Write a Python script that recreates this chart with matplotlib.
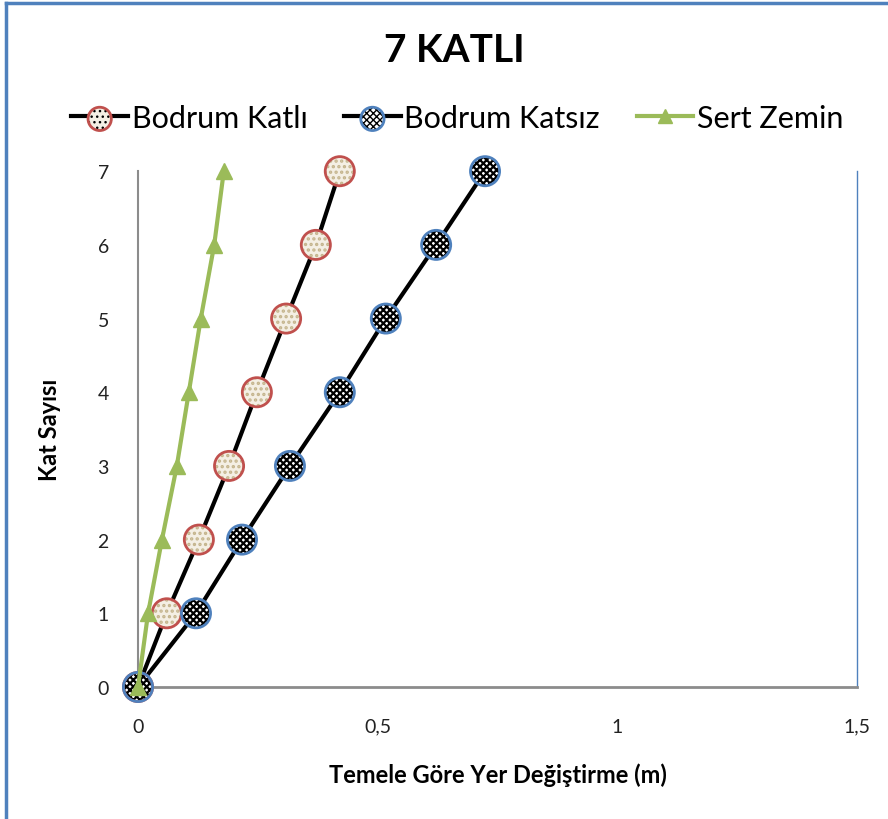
import matplotlib.pyplot as plt
from matplotlib.lines import Line2D
from matplotlib.legend_handler import HandlerTuple

plt.rcParams['font.family'] = ['Lato', 'DejaVu Sans']

# Floor numbers and lateral displacement relative to the foundation (m)
floors = [0, 1, 2, 3, 4, 5, 6, 7]
bodrum_katli = [0.0, 0.06, 0.127, 0.19, 0.248, 0.309, 0.371, 0.421]
bodrum_katsiz = [0.0, 0.121, 0.217, 0.317, 0.421, 0.517, 0.622, 0.724]
sert_zemin = [0.0, 0.021, 0.05, 0.081, 0.106, 0.131, 0.159, 0.179]

x_ticks = [0, 0.5, 1, 1.5]
x_tick_labels = ['0', '0,5', '1', '1,5']

RED = '#C0504D'
BLUE = '#4F81BD'
GREEN = '#9BBB59'

fig = plt.figure(figsize=(8.88, 8.20), dpi=100)
ax = fig.add_axes([0.1554, 0.161, 0.8097, 0.629])

# outer chart frame (top and left edges visible)
fig.add_artist(Line2D([0.0068, 0.0068], [0, 0.995], transform=fig.transFigure,
                      color=BLUE, lw=2.5))
fig.add_artist(Line2D([0.0068, 1.0], [0.995, 0.995], transform=fig.transFigure,
                      color=BLUE, lw=2.5))


def hatched_markers(x, y, face, hatch, hatch_color, edge, size):
    with plt.rc_context({'hatch.color': hatch_color, 'hatch.linewidth': 1.6}):
        fill = ax.scatter(x, y, s=size, marker='o', facecolor=face, hatch=hatch,
                          edgecolor='none', zorder=4, clip_on=False)
    ring = ax.scatter(x, y, s=size, marker='o', facecolor='none', edgecolor=edge,
                      linewidths=2, zorder=5, clip_on=False)
    return fill, ring


l1, = ax.plot(bodrum_katli, floors, color='black', lw=3, zorder=2, clip_on=False)
f1, r1 = hatched_markers(bodrum_katli, floors, '#F4EFE4', '...', '#C4B48C', RED, 440)

l2, = ax.plot(bodrum_katsiz, floors, color='black', lw=3, zorder=2, clip_on=False)
f2, r2 = hatched_markers(bodrum_katsiz, floors, 'white', 'xxxxx', 'black', BLUE, 440)

l3, = ax.plot(sert_zemin, floors, color=GREEN, lw=3, marker='^', markersize=12,
              markerfacecolor=GREEN, markeredgecolor=GREEN, zorder=6, clip_on=False)

ax.set_xlim(0, 1.5)
ax.set_ylim(0, 7)
ax.set_xticks(x_ticks)
ax.set_xticklabels(x_tick_labels)
ax.set_yticks(floors)
ax.tick_params(length=0, labelsize=14, colors='#222222')
ax.tick_params(axis='y', pad=21)
ax.tick_params(axis='x', pad=22)

ax.spines['top'].set_visible(False)
ax.spines['left'].set_color('#8C8C8C')
ax.spines['left'].set_linewidth(1.5)
ax.spines['bottom'].set_color('#8C8C8C')
ax.spines['bottom'].set_linewidth(2)
ax.spines['right'].set_color(BLUE)
ax.spines['right'].set_linewidth(1)

ax.set_xlabel('Temele Göre Yer Değiştirme (m)', fontsize=17, fontweight='bold',
              labelpad=20)
ax.set_ylabel('Kat Sayısı', fontsize=17, fontweight='bold', labelpad=26)

fig.text(0.512, 0.938, '7 KATLI', fontsize=28, fontweight='bold',
         ha='center', va='center')

handles = [(l1, f1, r1), (l2, f2, r2), (l3,)]
labels = ['Bodrum Katlı', 'Bodrum Katsız', 'Sert Zemin']
fig.legend(handles, labels, loc='center', bbox_to_anchor=(0.515, 0.855), ncol=3,
           frameon=False, fontsize=22, handlelength=1.85, handletextpad=0.12,
           columnspacing=1.2, markerscale=0.8,
           handler_map={tuple: HandlerTuple(ndivide=1, pad=0)})

fig.savefig('out.png', dpi=100)
